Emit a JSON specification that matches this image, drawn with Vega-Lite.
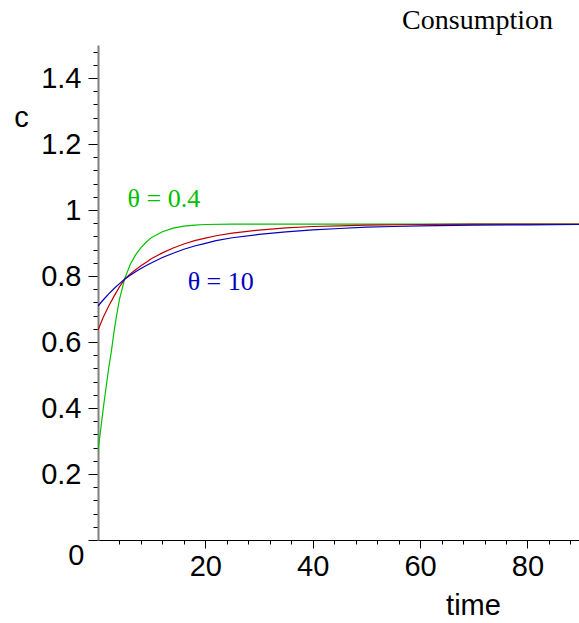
{
  "$schema": "https://vega.github.io/schema/vega-lite/v6.json",
  "autosize": {"type": "none"},
  "padding": {"left": 98, "top": 45, "right": 0, "bottom": 83},
  "width": 481,
  "height": 495,
  "config": {"view": {"stroke": null}},
  "title": {"text": "Consumption", "anchor": "end", "font": "Liberation Serif", "fontSize": 28, "fontWeight": "normal", "offset": 3, "dx": -26, "color": "black"},
  "datasets": {
    "curves": [
      {"t": 0, "c": 0.270, "s": "0.4"}, {"t": 0.5, "c": 0.335, "s": "0.4"}, {"t": 1, "c": 0.401, "s": "0.4"}, {"t": 1.5, "c": 0.462, "s": "0.4"}, {"t": 2, "c": 0.522, "s": "0.4"}, {"t": 2.5, "c": 0.573, "s": "0.4"}, {"t": 3, "c": 0.633, "s": "0.4"}, {"t": 3.5, "c": 0.684, "s": "0.4"}, {"t": 4, "c": 0.729, "s": "0.4"}, {"t": 5, "c": 0.793, "s": "0.4"}, {"t": 6, "c": 0.835, "s": "0.4"}, {"t": 7, "c": 0.864, "s": "0.4"}, {"t": 8, "c": 0.886, "s": "0.4"}, {"t": 9, "c": 0.903, "s": "0.4"}, {"t": 10, "c": 0.917, "s": "0.4"}, {"t": 12, "c": 0.934, "s": "0.4"}, {"t": 14, "c": 0.945, "s": "0.4"}, {"t": 16, "c": 0.951, "s": "0.4"}, {"t": 18, "c": 0.954, "s": "0.4"}, {"t": 20, "c": 0.956, "s": "0.4"}, {"t": 25, "c": 0.957, "s": "0.4"}, {"t": 40, "c": 0.957, "s": "0.4"}, {"t": 60, "c": 0.957, "s": "0.4"}, {"t": 89.6, "c": 0.957, "s": "0.4"},
      {"t": 0, "c": 0.636, "s": "mid"}, {"t": 1, "c": 0.676, "s": "mid"}, {"t": 2, "c": 0.709, "s": "mid"}, {"t": 3, "c": 0.739, "s": "mid"}, {"t": 4, "c": 0.767, "s": "mid"}, {"t": 5, "c": 0.791, "s": "mid"}, {"t": 6, "c": 0.806, "s": "mid"}, {"t": 7, "c": 0.819, "s": "mid"}, {"t": 8, "c": 0.831, "s": "mid"}, {"t": 9, "c": 0.842, "s": "mid"}, {"t": 10, "c": 0.853, "s": "mid"}, {"t": 12, "c": 0.870, "s": "mid"}, {"t": 14, "c": 0.885, "s": "mid"}, {"t": 16, "c": 0.897, "s": "mid"}, {"t": 18, "c": 0.907, "s": "mid"}, {"t": 20, "c": 0.915, "s": "mid"}, {"t": 22, "c": 0.922, "s": "mid"}, {"t": 25, "c": 0.930, "s": "mid"}, {"t": 30, "c": 0.939, "s": "mid"}, {"t": 35, "c": 0.946, "s": "mid"}, {"t": 40, "c": 0.950, "s": "mid"}, {"t": 45, "c": 0.952, "s": "mid"}, {"t": 50, "c": 0.954, "s": "mid"}, {"t": 60, "c": 0.956, "s": "mid"}, {"t": 70, "c": 0.957, "s": "mid"}, {"t": 80, "c": 0.957, "s": "mid"}, {"t": 89.6, "c": 0.957, "s": "mid"},
      {"t": 0, "c": 0.709, "s": "10"}, {"t": 1, "c": 0.728, "s": "10"}, {"t": 2, "c": 0.746, "s": "10"}, {"t": 3, "c": 0.762, "s": "10"}, {"t": 4, "c": 0.777, "s": "10"}, {"t": 5, "c": 0.791, "s": "10"}, {"t": 6, "c": 0.802, "s": "10"}, {"t": 7, "c": 0.813, "s": "10"}, {"t": 8, "c": 0.823, "s": "10"}, {"t": 9, "c": 0.832, "s": "10"}, {"t": 10, "c": 0.840, "s": "10"}, {"t": 12, "c": 0.856, "s": "10"}, {"t": 14, "c": 0.869, "s": "10"}, {"t": 16, "c": 0.881, "s": "10"}, {"t": 18, "c": 0.891, "s": "10"}, {"t": 20, "c": 0.899, "s": "10"}, {"t": 22, "c": 0.907, "s": "10"}, {"t": 25, "c": 0.916, "s": "10"}, {"t": 30, "c": 0.926, "s": "10"}, {"t": 35, "c": 0.934, "s": "10"}, {"t": 40, "c": 0.940, "s": "10"}, {"t": 45, "c": 0.944, "s": "10"}, {"t": 50, "c": 0.948, "s": "10"}, {"t": 55, "c": 0.950, "s": "10"}, {"t": 60, "c": 0.952, "s": "10"}, {"t": 70, "c": 0.954, "s": "10"}, {"t": 80, "c": 0.955, "s": "10"}, {"t": 89.6, "c": 0.956, "s": "10"}
    ],
    "labels": [
      {"t": 5.5, "c": 1.033, "s": "0.4", "label": "θ = 0.4"},
      {"t": 16.7, "c": 0.782, "s": "10", "label": "θ = 10"}
    ]
  },
  "layer": [
    {
      "data": {"name": "curves"},
      "mark": {"type": "line", "strokeWidth": 1.2, "clip": true},
      "encoding": {
        "x": {
          "field": "t", "type": "quantitative",
          "scale": {"domain": [0, 89.6], "nice": false, "zero": false},
          "axis": {
            "values": [4, 8, 12, 16, 20, 24, 28, 32, 36, 40, 44, 48, 52, 56, 60, 64, 68, 72, 76, 80, 84, 88],
            "tickCount": 200,
            "labelExpr": "datum.value % 20 == 0 ? format(datum.value, 'd') : ''",
            "tickSize": {"condition": {"test": "datum.value % 20 == 0", "value": 8}, "value": 4},
            "tickColor": "black",
            "domainColor": "black",
            "grid": false,
            "labelPadding": 4,
            "labelFont": "Liberation Sans",
            "labelFontSize": 29,
            "labelColor": "black",
            "labelOverlap": false,
            "labelFlush": false,
            "title": "time",
            "titleFont": "Liberation Sans",
            "titleFontSize": 29,
            "titleFontWeight": "normal",
            "titleColor": "black",
            "titleX": 375,
            "titleY": 65,
            "titleAlign": "center",
            "titleBaseline": "middle"
          }
        },
        "y": {
          "field": "c", "type": "quantitative",
          "scale": {"domain": [0, 1.5], "nice": false},
          "axis": {
            "values": [0, 0.04, 0.08, 0.12, 0.16, 0.2, 0.24, 0.28, 0.32, 0.36, 0.4, 0.44, 0.48, 0.52, 0.56, 0.6, 0.64, 0.68, 0.72, 0.76, 0.8, 0.84, 0.88, 0.92, 0.96, 1, 1.04, 1.08, 1.12, 1.16, 1.2, 1.24, 1.28, 1.32, 1.36, 1.4, 1.44, 1.48],
            "tickCount": 200,
            "labelExpr": "abs(datum.value*5-round(datum.value*5))<0.01 ? format(datum.value, '~g') : ''",
            "tickSize": {"condition": {"test": "abs(datum.value*5-round(datum.value*5))<0.01", "value": 10}, "value": 5},
            "labelOffset": {"condition": {"test": "datum.value == 0", "value": 15}, "value": 0},
            "labelPadding": {"condition": {"test": "datum.value == 0", "value": 4}, "value": 7},
            "tickColor": "black",
            "domainColor": "#808080",
            "domainWidth": 2,
            "grid": false,
            "labelFont": "Liberation Sans",
            "labelFontSize": 29,
            "labelColor": "black",
            "labelOverlap": false,
            "labelFlush": false,
            "title": "c",
            "titleAngle": 0,
            "titleFont": "Liberation Sans",
            "titleFontSize": 29,
            "titleFontWeight": "normal",
            "titleColor": "black",
            "titleX": -77,
            "titleY": 72,
            "titleAlign": "center",
            "titleBaseline": "middle"
          }
        },
        "color": {
          "field": "s", "type": "nominal",
          "scale": {"domain": ["0.4", "mid", "10"], "range": ["#00c000", "#c00000", "#0000c0"]},
          "legend": null
        }
      }
    },
    {
      "data": {"name": "labels"},
      "mark": {"type": "text", "align": "left", "baseline": "middle", "font": "Liberation Serif", "fontSize": 26},
      "encoding": {
        "x": {"field": "t", "type": "quantitative"},
        "y": {"field": "c", "type": "quantitative"},
        "text": {"field": "label"},
        "color": {"field": "s", "type": "nominal", "scale": {"domain": ["0.4", "mid", "10"], "range": ["#00c000", "#c00000", "#0000c0"]}, "legend": null}
      }
    }
  ]
}
